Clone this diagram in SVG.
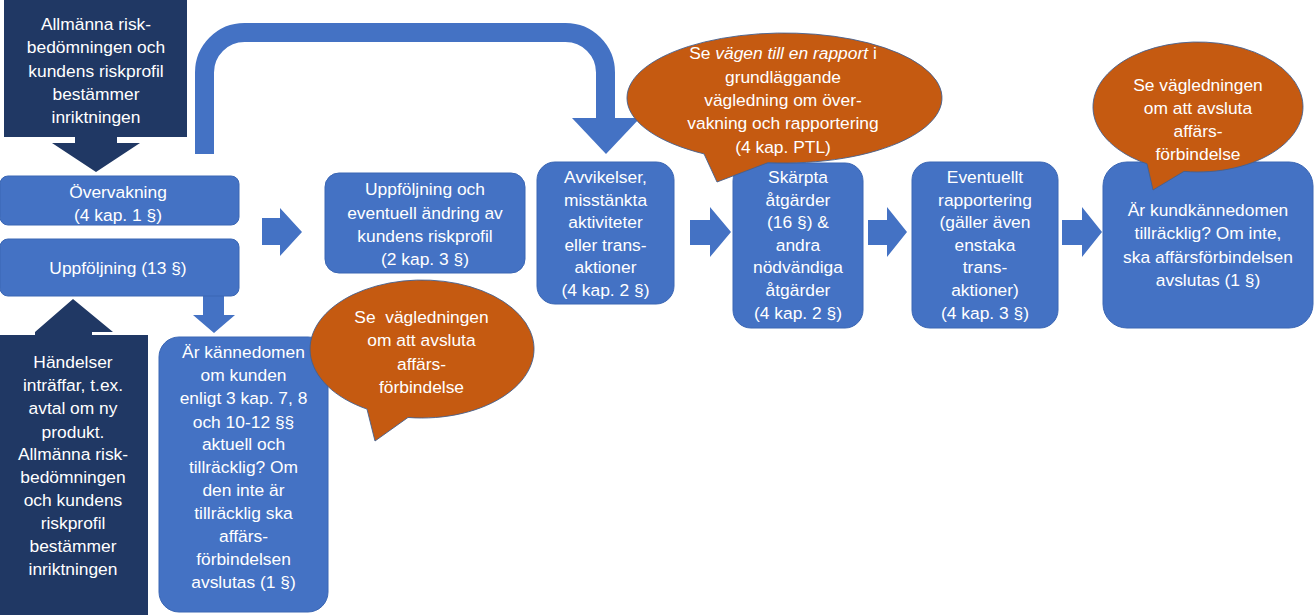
<svg xmlns="http://www.w3.org/2000/svg" width="1314" height="615" viewBox="0 0 1314 615">
<style>
.bx{fill:#4472C4;stroke:#3A66B4;stroke-width:1}
.dk{fill:#203864}
.or{fill:#C55A11;stroke:#44608F;stroke-width:0.9}
.ar{fill:#4472C4}
text{font-family:"Liberation Sans",Arial,sans-serif;font-size:17.4px;fill:#FFFFFF;text-anchor:middle}
</style>
<rect width="1314" height="615" fill="#FFFFFF"/>
<g id="connectors">
  <path d="M204.5,154 V72.5 A40,40 0 0 1 244.5,32.5 H565.5 A40,40 0 0 1 605.5,72.5 V119" fill="none" stroke="#4472C4" stroke-width="19"/>
  <polygon class="ar" points="572,118 640,118 606,154"/>
  <polygon class="ar" points="262,218 280,218 280,208 302,232 280,256 280,245 262,245"/>
  <polygon class="ar" points="690,220 710,220 710,207 731,232 710,257 710,245 690,245"/>
  <polygon class="ar" points="868,220 887,220 887,207 907,232 887,257 887,245 868,245"/>
  <polygon class="ar" points="1062,220 1082,220 1082,207 1102,232 1082,257 1082,245 1062,245"/>
  <polygon class="ar" points="203,296 224,296 224,315 235,315 214,333 193,315 203,315"/>
</g>
<g id="n-allmanna-top">
  <polygon class="dk" points="4,0 187,0 187,137 117,137 117,143 140,143 96,172 52,143 75,143 75,137 4,137"/>
  <text x="96" y="30">Allmänna risk-</text>
  <text x="96" y="53">bedömningen och</text>
  <text x="96" y="77">kundens riskprofil</text>
  <text x="96" y="100">bestämmer</text>
  <text x="96" y="123">inriktningen</text>
</g>
<g id="n-overvakning">
  <rect class="bx" x="0" y="176" width="239" height="49" rx="8"/>
  <text x="118" y="198">Övervakning</text>
  <text x="118" y="221">(4 kap. 1 §)</text>
</g>
<g id="n-uppfoljning">
  <rect class="bx" x="0" y="239" width="239" height="57" rx="8"/>
  <text x="118" y="274">Uppföljning (13 §)</text>
</g>
<g id="n-handelser">
  <polygon class="dk" points="0,335 35,335 35,332 73,299 113,332 92,332 92,335 148,335 148,615 0,615"/>
  <text x="73" y="368">Händelser</text>
  <text x="73" y="391">inträffar, t.ex.</text>
  <text x="73" y="414">avtal om ny</text>
  <text x="73" y="438">produkt.</text>
  <text x="73" y="460">Allmänna risk-</text>
  <text x="73" y="483">bedömningen</text>
  <text x="73" y="506">och kundens</text>
  <text x="73" y="529">riskprofil</text>
  <text x="73" y="552">bestämmer</text>
  <text x="73" y="575">inriktningen</text>
</g>
<g id="n-kannedomen">
  <rect class="bx" x="159" y="337" width="169" height="275" rx="20"/>
  <text x="243.5" y="358">Är kännedomen</text>
  <text x="243.5" y="381">om kunden</text>
  <text x="243.5" y="404">enligt 3 kap. 7, 8</text>
  <text x="243.5" y="428">och 10-12 §§</text>
  <text x="243.5" y="450">aktuell och</text>
  <text x="243.5" y="473">tillräcklig? Om</text>
  <text x="243.5" y="496">den inte är</text>
  <text x="243.5" y="519">tillräcklig ska</text>
  <text x="243.5" y="542">affärs-</text>
  <text x="243.5" y="565">förbindelsen</text>
  <text x="243.5" y="588">avslutas (1 §)</text>
</g>
<g id="n-riskprofil">
  <rect class="bx" x="325" y="173" width="200" height="100" rx="14"/>
  <text x="425" y="195">Uppföljning och</text>
  <text x="425" y="219">eventuell ändring av</text>
  <text x="425" y="242">kundens riskprofil</text>
  <text x="425" y="265">(2 kap. 3 §)</text>
</g>
<g id="n-avvikelser">
  <rect class="bx" x="537" y="162" width="137" height="142" rx="18"/>
  <text x="605.5" y="183">Avvikelser,</text>
  <text x="605.5" y="206">misstänkta</text>
  <text x="605.5" y="228">aktiviteter</text>
  <text x="605.5" y="251">eller trans-</text>
  <text x="605.5" y="273">aktioner</text>
  <text x="605.5" y="296">(4 kap. 2 §)</text>
</g>
<g id="n-skarpta">
  <rect class="bx" x="733" y="163" width="130" height="165" rx="18"/>
  <text x="798" y="183">Skärpta</text>
  <text x="798" y="206">åtgärder</text>
  <text x="798" y="228">(16 §) &amp;</text>
  <text x="798" y="251">andra</text>
  <text x="798" y="273">nödvändiga</text>
  <text x="798" y="296">åtgärder</text>
  <text x="798" y="319">(4 kap. 2 §)</text>
</g>
<g id="n-rapportering">
  <rect class="bx" x="912" y="162" width="146" height="166" rx="18"/>
  <text x="985" y="183">Eventuellt</text>
  <text x="985" y="206">rapportering</text>
  <text x="985" y="228">(gäller även</text>
  <text x="985" y="251">enstaka</text>
  <text x="985" y="273">trans-</text>
  <text x="985" y="296">aktioner)</text>
  <text x="985" y="319">(4 kap. 3 §)</text>
</g>
<g id="n-kundkannedomen">
  <rect class="bx" x="1103" y="162" width="210" height="166" rx="24"/>
  <text x="1208" y="216">Är kundkännedomen</text>
  <text x="1208" y="239">tillräcklig? Om inte,</text>
  <text x="1208" y="263">ska affärsförbindelsen</text>
  <text x="1208" y="286">avslutas (1 §)</text>
</g>
<g id="n-callout-ptl">
  <path class="or" d="M704,153.87 A157.5,65 0 1 1 768,162.64 L717,182 Z"/>
  <text x="783" y="59">Se <tspan font-style="italic">vägen till en rapport</tspan> i</text>
  <text x="783" y="83">grundläggande</text>
  <text x="783" y="106">vägledning om över-</text>
  <text x="783" y="129">vakning och rapportering</text>
  <text x="783" y="153">(4 kap. PTL)</text>
</g>
<g id="n-callout-mid">
  <path class="or" d="M367,409.1 A112,69 0 1 1 408,417.46 L375,441 Z"/>
  <text x="421.5" y="323" xml:space="preserve">Se  vägledningen</text>
  <text x="421.5" y="346">om att avsluta</text>
  <text x="421.5" y="370">affärs-</text>
  <text x="421.5" y="393">förbindelse</text>
</g>
<g id="n-callout-right">
  <path class="or" d="M1147,163.8 A105,65 0 1 1 1184,171.4 L1153,190 Z"/>
  <text x="1198" y="91">Se vägledningen</text>
  <text x="1198" y="114">om att avsluta</text>
  <text x="1198" y="137">affärs-</text>
  <text x="1198" y="160">förbindelse</text>
</g>
</svg>
